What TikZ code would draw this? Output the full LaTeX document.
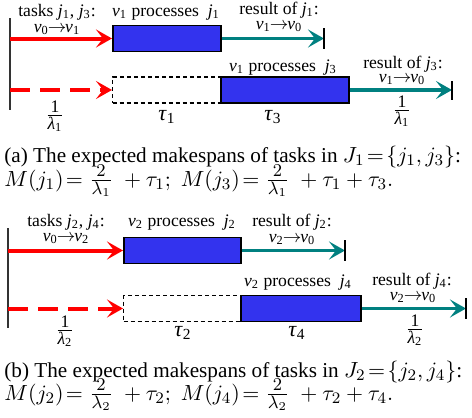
\documentclass[tikz,border=0pt]{standalone}
\usepackage{fontspec}
\setmainfont{Liberation Serif}
\usetikzlibrary{arrows.meta}
\definecolor{myred}{RGB}{255,0,0}
\definecolor{myblue}{RGB}{51,51,238}
\definecolor{myteal}{RGB}{0,128,128}
\newcommand\vx[1]{\textit{v}\textsubscript{#1}}
\newcommand\jx[1]{\textit{j}\textsubscript{#1}}
\newcommand\tx[1]{{\fontsize{11}{12}\selectfont\textit{τ}\textsubscript{#1}}}
\newcommand\lfrac[1]{$\frac{\mbox{1}}{\mbox{\itshape λ\textsubscript{\upshape #1}}}$}
\newcommand\arr{\hspace{-0.5pt}$\rightarrow$\hspace{-0.5pt}}
\newcommand\mm[1]{{\fontsize{11.3}{12}\selectfont$#1$}}
\newcommand\bfr[1]{\mbox{\fontsize{12.5}{13}\selectfont$\frac{2}{\lambda_{#1}}$}}
\begin{document}
\begin{tikzpicture}[x=0.5pt,y=-0.5pt,
  lbl/.style={font=\fontsize{8.8}{10}\selectfont, inner sep=0pt},
  captext/.style={font=\fontsize{10.6}{12}\selectfont, inner sep=0pt, anchor=base west},
  axisline/.style={draw=black!80, line width=0.8pt},
  bar/.style={draw=black, line width=0.8pt},
  bluebox/.style={draw=black, fill=myblue, line width=0.8pt, minimum height=13pt, inner sep=0pt, anchor=west},
  dashbox/.style={draw=black, line width=0.6pt, minimum height=13pt, inner sep=0pt, anchor=west, dash pattern=on 2pt off 1.5pt},
  redarrow/.style={draw=myred, line width=2pt, -{Stealth[length=8pt,width=9pt,inset=3.5pt]}},
  reddash/.style={redarrow, dash pattern=on 10pt off 5pt},
  tealarrow/.style={draw=myteal, line width=1.8pt, -{Stealth[length=8pt,width=9pt,inset=3.5pt]}}
]
\useasboundingbox (0,0) rectangle (472,418);

% ---------- panel (a) ----------
\draw[axisline] (10,18) -- (10,110);
\coordinate (s1) at (10,38.5);
\coordinate (s3) at (10,90);
\node[bluebox, minimum width=54pt] (p1) at (112,38.5) {};
\draw[redarrow] (s1) -- (p1.west);
\coordinate (e1) at (324,38.5);
\draw[tealarrow] (p1.east) -- (e1);
\draw[bar] (324,28) -- (324,49);

\node[dashbox, minimum width=54pt] (w1) at (112,90) {};
\node[bluebox, minimum width=64pt] (p3) at (220,90) {};
\draw[reddash] (s3) -- (w1.west);
\coordinate (e3) at (452,90);
\draw[tealarrow] (p3.east) -- (e3);
\draw[bar] (452,81) -- (452,100);

\node[lbl] (la1) at (57,12) {tasks \jx1, \jx3:};
\node[lbl] (la2) at (57,30) {\vx0\arr\vx1};
\node[lbl] (la3) at (166,13) {\vx1 processes \ \jx1};
\node[lbl] (la4) at (279,10) {result of \jx1:};
\node[lbl] (la5) at (279,27) {\vx1\arr\vx0};
\node[lbl] (la6) at (283,68) {\vx1 processes \ \jx3};
\node[lbl] (la7) at (403,64) {result of \jx3:};
\node[lbl] (la8) at (402,80) {\vx1\arr\vx0};
\node[lbl] (la9) at (55,116) {\lfrac1};
\node[lbl] (la10) at (167,117) {\tx1};
\node[lbl] (la11) at (273,117) {\tx3};
\node[lbl] (la12) at (402,111) {\lfrac1};

\node[captext] (ca1) at (4,162) {(a) The expected makespans of tasks in \mm{J_1\!=\!\{j_1,j_3\}}:};
\node[captext] (ca2) at (4,186) {\mm{M(j_1)\!=\bfr1\;+\tau_1;\;M(j_3)\!=\bfr1\;+\tau_1+\tau_3.}};

% ---------- panel (b) ----------
\draw[axisline] (8,228) -- (8,328);
\coordinate (s2) at (8,250.5);
\coordinate (s4) at (8,308.5);
\node[bluebox, minimum width=58.5pt] (p2) at (123,250.5) {};
\draw[redarrow] (s2) -- (p2.west);
\coordinate (e2) at (345,250.5);
\draw[tealarrow] (p2.east) -- (e2);
\draw[bar] (345,240) -- (345,261);

\node[dashbox, minimum width=58.5pt] (w2) at (123,308.5) {};
\node[bluebox, minimum width=60pt] (p4) at (240,308.5) {};
\draw[reddash] (s4) -- (w2.west);
\coordinate (e4) at (466,308.5);
\draw[tealarrow] (p4.east) -- (e4);
\draw[bar] (466,298) -- (466,319);

\node[lbl] (lb1) at (66,222) {tasks \jx2, \jx4:};
\node[lbl] (lb2) at (66,239) {\vx0\arr\vx2};
\node[lbl] (lb3) at (182,223) {\vx2 processes \ \jx2};
\node[lbl] (lb4) at (292,222) {result of \jx2:};
\node[lbl] (lb5) at (292,240) {\vx2\arr\vx0};
\node[lbl] (lb6) at (298,283) {\vx2 processes \ \jx4};
\node[lbl] (lb7) at (412,281) {result of \jx4:};
\node[lbl] (lb8) at (413,298) {\vx2\arr\vx0};
\node[lbl] (lb9) at (65,331) {\lfrac2};
\node[lbl] (lb10) at (183,333) {\tx2};
\node[lbl] (lb11) at (297,333) {\tx4};
\node[lbl] (lb12) at (415,330) {\lfrac2};

\node[captext] (cb1) at (4,377) {(b) The expected makespans of tasks in \mm{J_2\!=\!\{j_2,j_4\}}:};
\node[captext] (cb2) at (4,400) {\mm{M(j_2)\!=\bfr2\;+\tau_2;\;M(j_4)\!=\bfr2\;+\tau_2+\tau_4.}};
\end{tikzpicture}
\end{document}
